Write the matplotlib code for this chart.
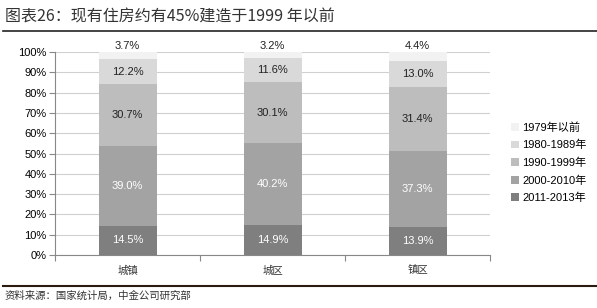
import matplotlib
matplotlib.use("Agg")
import matplotlib.pyplot as plt
import numpy as np

plt.rcParams['font.family'] = ['Noto Sans CJK SC', 'DejaVu Sans']

categories = ['城镇', '城区', '镇区']
series_names = ['2011-2013年', '2000-2010年', '1990-1999年', '1980-1989年', '1979年以前']
s2011 = [14.5, 14.9, 13.9]
s2000 = [39.0, 40.2, 37.3]
s1990 = [30.7, 30.1, 31.4]
s1980 = [12.2, 11.6, 13.0]
s1979 = [3.7, 3.2, 4.4]
yticks = [0, 10, 20, 30, 40, 50, 60, 70, 80, 90, 100]

series = [s2011, s2000, s1990, s1980, s1979]
colors = ['#7f7f7f', '#a3a3a3', '#bdbdbd', '#d9d9d9', '#f2f2f2']
text_colors = ['white', 'white', '#222222', '#222222', '#222222']
numfont = ['Liberation Sans', 'DejaVu Sans']

fig = plt.figure(figsize=(5.97, 3.08), dpi=100)
ax = fig.add_axes([55/597, 1-255/308, 435/597, 203/308])

x = np.arange(len(categories))
bottom = np.zeros(len(categories))
handles = []
for vals, c, tc, name in zip(series, colors, text_colors, series_names):
    vals = np.array(vals)
    b = ax.bar(x, vals, 0.4, bottom=bottom, color=c, label=name, zorder=2)
    handles.append(b)
    for xi, v, bt in zip(x, vals, bottom):
        if name == '1979年以前':
            ax.text(xi, 100.5, f'{v:.1f}%', ha='center', va='bottom', fontsize=8,
                    color='#222222', family=numfont)
        else:
            ax.text(xi, bt + v/2, f'{v:.1f}%', ha='center', va='center', fontsize=8,
                    color=tc, family=numfont)
    bottom += vals

ax.set_xlim(-0.5, 2.5)
ax.set_ylim(0, 100)
ax.set_yticks(yticks)
ax.set_yticklabels([f'{t}%' for t in yticks], fontsize=8, family=numfont)
ax.yaxis.grid(True, color='#d0d0d0', linewidth=0.8, zorder=0)
ax.set_axisbelow(True)
ax.set_xticks([-0.5, 0.5, 1.5, 2.5])
ax.set_xticklabels([])
ax.tick_params(axis='x', length=4, color='#888888', direction='out')
ax.tick_params(axis='y', length=4, color='#888888', direction='out', pad=2)
for xi, c in zip(x, categories):
    ax.text(xi, -5, c, ha='center', va='top', fontsize=7.5, color='#333333')
for sp in ['top', 'right']:
    ax.spines[sp].set_visible(False)
ax.spines['left'].set_color('#888888')
ax.spines['bottom'].set_color('#888888')

leg = ax.legend(handles[::-1], series_names[::-1], loc='center left',
                bbox_to_anchor=(1.025, 0.455), frameon=False,
                prop={'family': ['Liberation Sans', 'Noto Sans CJK SC'], 'size': 8},
                handlelength=0.7, handleheight=0.7, handletextpad=0.3,
                labelspacing=0.65)

fig.text(5/597, 1-17/308, '图表26：现有住房约有45%建造于1999 年以前', fontsize=11.5,
         style='italic', color='#333333', va='center', ha='left')
fig.add_artist(plt.Line2D([3/597, 597/597], [1-31/308, 1-31/308], color='#222222', linewidth=1.2))
fig.add_artist(plt.Line2D([3/597, 597/597], [1-286/308, 1-286/308], color='#2a1a10', linewidth=1.5))
fig.text(5/597, 1-296/308, '资料来源：国家统计局，中金公司研究部', fontsize=7.5,
         style='italic', color='#333333', va='center', ha='left')

fig.savefig('out.png', dpi=100)
